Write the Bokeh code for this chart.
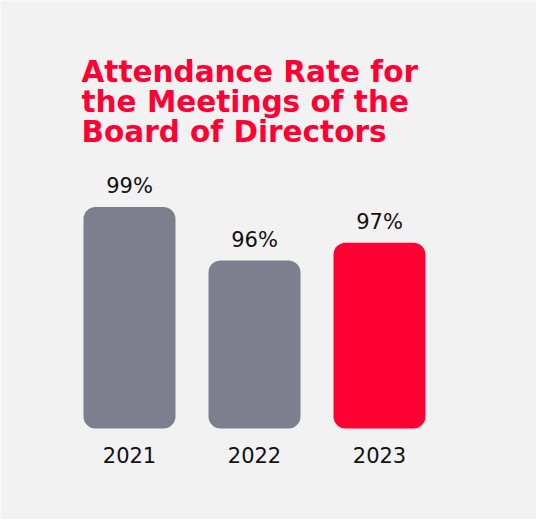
from bokeh.plotting import figure
from bokeh.models import ColumnDataSource, Range1d, Label
from bokeh.embed import file_html
from bokeh.resources import INLINE
from bokeh.core.properties import value

years = ["2021", "2022", "2023"]
rates = [99, 96, 97]
colors = ["#7f7e8e", "#7f7e8e", "#ff0033"]
labels = [f"{r}%" for r in rates]
title_lines = ["Attendance Rate for", "the Meetings of the", "Board of Directors"]

BASE = 86.6
FONT = "DejaVu Sans"

src = ColumnDataSource(dict(
    x=list(range(len(years))), year=years, rate=rates, color=colors,
    label=labels, base=[BASE] * len(years),
))

W, H = 536, 519
p = figure(width=W, height=H, output_backend="svg", toolbar_location=None,
           x_range=Range1d(-1.032, 3.256), y_range=Range1d(81.5, 110.56),
           min_border=0, min_border_left=0, min_border_right=0,
           min_border_top=0, min_border_bottom=0)
p.axis.visible = False
p.grid.visible = False
p.outline_line_color = None
p.background_fill_color = "#f2f2f2"
p.border_fill_color = "#f2f2f2"

p.vbar(x="x", top="rate", bottom="base", width=0.736, color="color",
       line_color=None, border_radius=12, source=src)

p.text(x="x", y="rate", text="label", source=src, text_align="center",
       text_baseline="alphabetic", y_offset=-21, text_font=value(FONT),
       text_font_size="21px", text_color="#111111")
p.text(x="x", y="base", text="year", source=src, text_align="center",
       text_baseline="alphabetic", y_offset=27, text_font=value(FONT),
       text_font_size="21px", text_color="#111111")

for i, line in enumerate(title_lines):
    p.add_layout(Label(x=81, y=448 - 30 * i, x_units="screen", y_units="screen",
                       text=line, text_font=FONT, text_font_size="29.5px",
                       text_font_style="bold", text_color="#ff0033",
                       text_baseline="alphabetic"))

open("out.html", "w").write(file_html(p, INLINE))
